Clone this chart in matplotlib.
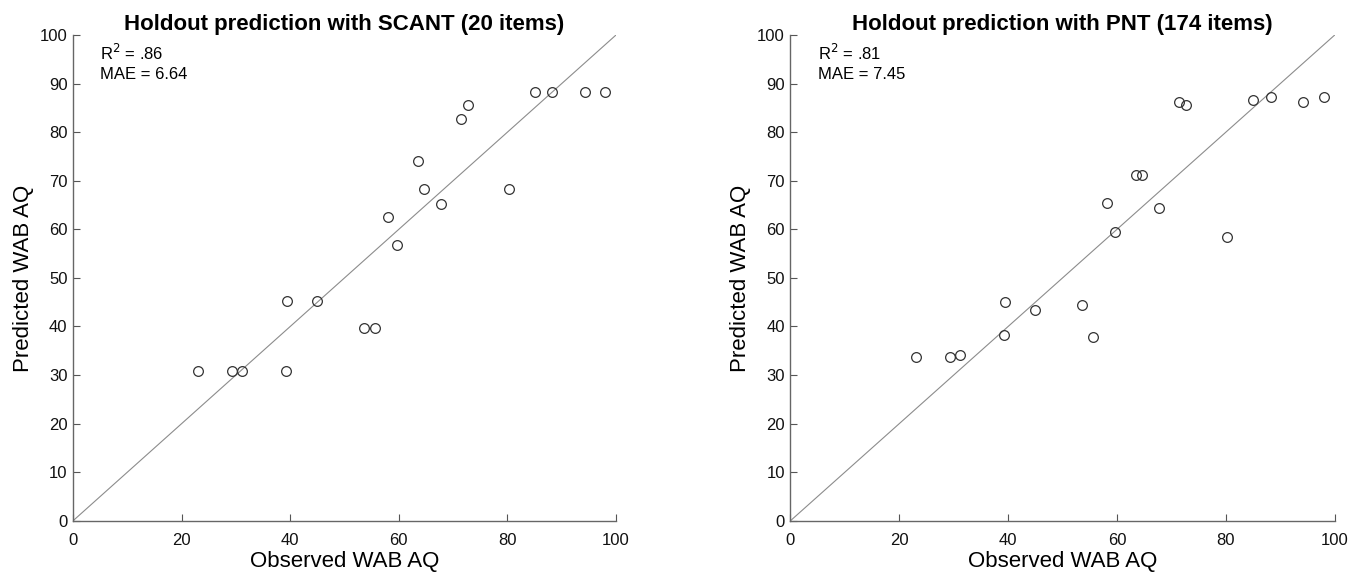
import matplotlib
matplotlib.use("Agg")
from matplotlib import pyplot as plt

plt.rcParams['font.family'] = ['Liberation Sans', 'DejaVu Sans']

# observed WAB AQ (same patients in both panels)
observed = [23.0, 29.3, 31.1, 39.2, 39.5, 44.9, 53.5, 55.6, 58.1, 59.7,
            63.5, 64.6, 67.8, 71.4, 72.7, 80.2, 85.0, 88.2, 94.2, 98.0]
# predicted WAB AQ
pred_scant = [30.9, 30.9, 30.9, 30.9, 45.3, 45.3, 39.6, 39.6, 62.5, 56.8,
              74.0, 68.3, 65.3, 82.7, 85.6, 68.3, 88.3, 88.3, 88.3, 88.3]
pred_pnt = [33.8, 33.8, 34.1, 38.2, 45.1, 43.4, 44.4, 37.9, 65.5, 59.4,
            71.1, 71.1, 64.3, 86.2, 85.5, 58.4, 86.6, 87.2, 86.2, 87.2]

titles = ["Holdout prediction with SCANT (20 items)",
          "Holdout prediction with PNT (174 items)"]
r2_labels = [".86", ".81"]
mae_labels = ["6.64", "7.45"]
ticks = [0, 20, 40, 60, 80, 100]
yticks = list(range(0, 101, 10))

fig = plt.figure(figsize=(13.51, 5.73), dpi=100)
boxes = [[0.054, 0.091, 0.402, 0.848], [0.585, 0.091, 0.403, 0.848]]

for i, pred in enumerate([pred_scant, pred_pnt]):
    ax = fig.add_axes(boxes[i])
    ax.plot([0, 100], [0, 100], color='#8c8c8c', linewidth=0.8, zorder=1)
    ax.plot(observed, pred, linestyle='none', marker='o', markersize=7,
            markerfacecolor='none', markeredgecolor='#333333',
            markeredgewidth=0.9, zorder=2)
    ax.set_xlim(0, 100)
    ax.set_ylim(0, 100)
    ax.set_xticks(ticks)
    ax.set_yticks(yticks)
    ax.tick_params(direction='in', length=5, width=0.8, color='#555555',
                   labelsize=12, labelcolor='#111111')
    ax.tick_params(axis='x', pad=9)
    ax.tick_params(axis='y', pad=4)
    for s in ['top', 'right']:
        ax.spines[s].set_visible(False)
    for s in ['left', 'bottom']:
        ax.spines[s].set_color('#666666')
        ax.spines[s].set_linewidth(1.0)
    ax.set_title(titles[i], fontsize=16, fontweight='bold', pad=2)
    ax.set_xlabel("Observed WAB AQ", fontsize=16, labelpad=2)
    ax.set_ylabel("Predicted WAB AQ", fontsize=16, labelpad=4)
    ax.text(5.0, 96.3, "R$^2$ = " + r2_labels[i], fontsize=12, va='center')
    ax.text(5.0, 91.8, "MAE = " + mae_labels[i], fontsize=12, va='center')

plt.savefig("out.png", dpi=100)
